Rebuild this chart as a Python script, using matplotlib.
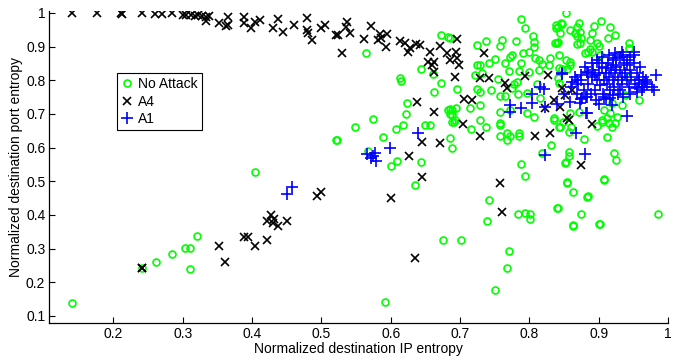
import matplotlib
matplotlib.use('Agg')
import matplotlib.pyplot as plt
from matplotlib.ticker import FormatStrFormatter
import numpy as np

# (IP entropy, port entropy) pairs
no_attack = [
    (0.141, 0.139), (0.242, 0.243), (0.262, 0.260), (0.285, 0.284), (0.303, 0.302), (0.310, 0.302),
    (0.310, 0.240), (0.320, 0.338), (0.404, 0.528), (0.521, 0.623),
    (0.635, 0.489), (0.742, 0.445), (0.739, 0.382), (0.675, 0.326), (0.702, 0.326), (0.771, 0.293),
    (0.767, 0.243), (0.751, 0.177), (0.592, 0.142),
    (0.784, 0.403), (0.794, 0.406), (0.801, 0.403), (0.801, 0.388), (0.840, 0.421), (0.854, 0.495),
    (0.863, 0.468), (0.884, 0.457), (0.863, 0.367), (0.874, 0.403), (0.902, 0.373), (0.985, 0.403),
    (0.908, 0.504),
    (0.844, 0.661), (0.860, 0.661), (0.857, 0.647), (0.897, 0.664), (0.904, 0.676), (0.914, 0.673),
    (0.919, 0.661), (0.923, 0.673), (0.879, 0.626), (0.912, 0.632), (0.857, 0.587), (0.857, 0.575),
    (0.853, 0.557), (0.922, 0.584), (0.925, 0.563), (0.907, 0.507),
    (0.691, 0.676), (0.715, 0.655), (0.737, 0.661), (0.757, 0.667), (0.686, 0.629), (0.689, 0.599),
    (0.757, 0.635), (0.767, 0.644), (0.772, 0.635), (0.767, 0.623), (0.785, 0.644), (0.785, 0.635),
    (0.831, 0.608), (0.818, 0.584), (0.843, 0.661), (0.836, 0.682), (0.788, 0.551), (0.793, 0.516),
    (0.549, 0.661), (0.523, 0.623), (0.607, 0.655), (0.617, 0.667), (0.589, 0.632), (0.567, 0.590),
    (0.609, 0.560), (0.600, 0.546), (0.643, 0.557), (0.650, 0.667), (0.656, 0.667),
    (0.672, 0.935), (0.683, 0.929), (0.564, 0.881), (0.643, 0.834), (0.661, 0.819), (0.613, 0.807),
    (0.615, 0.798), (0.672, 0.792), (0.663, 0.765), (0.623, 0.733), (0.622, 0.700), (0.682, 0.712),
    (0.686, 0.700), (0.689, 0.676), (0.574, 0.685),
    (0.788, 0.982), (0.793, 0.955), (0.838, 0.964), (0.838, 0.955), (0.846, 0.970), (0.685, 0.926),
    (0.725, 0.905), (0.738, 0.917), (0.761, 0.920), (0.758, 0.902), (0.780, 0.917), (0.805, 0.932),
    (0.807, 0.914), (0.807, 0.899), (0.837, 0.911), (0.841, 0.914), (0.800, 0.884), (0.790, 0.881),
    (0.775, 0.875), (0.772, 0.869), (0.750, 0.863), (0.741, 0.851), (0.729, 0.846), (0.724, 0.846),
    (0.765, 0.851), (0.788, 0.851), (0.808, 0.866), (0.814, 0.860), (0.818, 0.848), (0.830, 0.866),
    (0.828, 0.846),
    (0.771, 0.828), (0.785, 0.828), (0.732, 0.822), (0.721, 0.816), (0.754, 0.804), (0.800, 0.825),
    (0.814, 0.831), (0.696, 0.774), (0.725, 0.774), (0.729, 0.765), (0.745, 0.771), (0.778, 0.789),
    (0.782, 0.795), (0.775, 0.777), (0.811, 0.789), (0.843, 0.792), (0.758, 0.753), (0.764, 0.753),
    (0.784, 0.759), (0.797, 0.762), (0.815, 0.748), (0.689, 0.712), (0.714, 0.718), (0.729, 0.727),
    (0.758, 0.706), (0.772, 0.712), (0.797, 0.703), (0.807, 0.691), (0.836, 0.688), (0.692, 0.682),
    (0.729, 0.682), (0.757, 0.673),
    (0.853, 0.999), (0.847, 0.967), (0.841, 0.958), (0.871, 0.970), (0.869, 0.958), (0.893, 0.961),
    (0.903, 0.976), (0.916, 0.958), (0.859, 0.950), (0.844, 0.941), (0.866, 0.941), (0.873, 0.944),
    (0.890, 0.941), (0.923, 0.935), (0.913, 0.926), (0.869, 0.932), (0.874, 0.926), (0.887, 0.920),
    (0.869, 0.908), (0.873, 0.911), (0.840, 0.911), (0.897, 0.911), (0.900, 0.902), (0.943, 0.911),
    (0.887, 0.893), (0.890, 0.884), (0.885, 0.884), (0.880, 0.881), (0.843, 0.875), (0.902, 0.875),
    (0.943, 0.896), (0.853, 0.860), (0.859, 0.854), (0.859, 0.846), (0.854, 0.834), (0.847, 0.834),
    (0.841, 0.807), (0.958, 0.742), (0.940, 0.810), (0.871, 0.706), (0.907, 0.712), (0.919, 0.733),
    (0.933, 0.727), (0.937, 0.756), (0.916, 0.703), (0.926, 0.691), (0.912, 0.688), (0.904, 0.682),
    (0.849, 0.676), (0.859, 0.703), (0.843, 0.837),
    (0.685, 0.715), (0.694, 0.718), (0.689, 0.696), (0.851, 0.555), (0.854, 0.498), (0.883, 0.454),
    (0.841, 0.421), (0.863, 0.370), (0.900, 0.373),
]

a4 = [
    (0.141, 1.0), (0.177, 1.0), (0.211, 1.0), (0.212, 0.998), (0.242, 1.0), (0.260, 0.997),
    (0.270, 0.997), (0.285, 1.0),
    (0.300, 0.994), (0.305, 0.993), (0.312, 0.995), (0.318, 0.992), (0.322, 0.994), (0.328, 0.990),
    (0.333, 0.988), (0.338, 0.990), (0.333, 0.976), (0.352, 0.970), (0.366, 0.988), (0.366, 0.964),
    (0.362, 0.961), (0.389, 0.988), (0.389, 0.970), (0.398, 0.955), (0.405, 0.973), (0.412, 0.979),
    (0.437, 0.982), (0.430, 0.955), (0.444, 0.944), (0.461, 0.964),
    (0.479, 0.985), (0.479, 0.950), (0.481, 0.941), (0.486, 0.920), (0.500, 0.955), (0.505, 0.964),
    (0.521, 0.935), (0.536, 0.958), (0.524, 0.935), (0.541, 0.941), (0.537, 0.973), (0.530, 0.881),
    (0.562, 0.923), (0.572, 0.961), (0.584, 0.938), (0.586, 0.926), (0.595, 0.938), (0.582, 0.920),
    (0.593, 0.899), (0.613, 0.917), (0.620, 0.911), (0.625, 0.884), (0.628, 0.896), (0.636, 0.908),
    (0.642, 0.905), (0.656, 0.884), (0.653, 0.854), (0.663, 0.854), (0.660, 0.845), (0.663, 0.825),
    (0.671, 0.902), (0.681, 0.881), (0.685, 0.860),
    (0.696, 0.923), (0.694, 0.884), (0.696, 0.866), (0.699, 0.846), (0.735, 0.881), (0.692, 0.810),
    (0.728, 0.807), (0.742, 0.807), (0.764, 0.792), (0.768, 0.777), (0.794, 0.813), (0.826, 0.816),
    (0.836, 0.742), (0.823, 0.718),
    (0.638, 0.736), (0.663, 0.706), (0.705, 0.745), (0.717, 0.742), (0.704, 0.670), (0.729, 0.635),
    (0.645, 0.617), (0.671, 0.614), (0.626, 0.575), (0.645, 0.513), (0.808, 0.635), (0.830, 0.644),
    (0.844, 0.721), (0.854, 0.688), (0.857, 0.682), (0.890, 0.670), (0.874, 0.549),
    (0.847, 0.777), (0.851, 0.756), (0.861, 0.771),
    (0.758, 0.495), (0.760, 0.409), (0.600, 0.451), (0.635, 0.272),
    (0.242, 0.243), (0.241, 0.241), (0.352, 0.308), (0.361, 0.260), (0.389, 0.335), (0.394, 0.335),
    (0.404, 0.308), (0.421, 0.326), (0.421, 0.382), (0.428, 0.400), (0.430, 0.376), (0.432, 0.388),
    (0.437, 0.367), (0.451, 0.382), (0.493, 0.457), (0.500, 0.468),
]

a1 = [
    (0.451, 0.462), (0.458, 0.483),
    (0.566, 0.581), (0.577, 0.584), (0.572, 0.569), (0.579, 0.560), (0.574, 0.575), (0.599, 0.599),
    (0.640, 0.644), (0.823, 0.578), (0.867, 0.644), (0.880, 0.581), (0.940, 0.694), (0.881, 0.703),
    (0.772, 0.727), (0.772, 0.706), (0.788, 0.717), (0.804, 0.759), (0.804, 0.733), (0.815, 0.780),
    (0.821, 0.774), (0.823, 0.721), (0.840, 0.730), (0.847, 0.819), (0.861, 0.795), (0.873, 0.733),
    (0.883, 0.751),
    (0.923, 0.881), (0.950, 0.884), (0.933, 0.884), (0.983, 0.816), (0.976, 0.780), (0.979, 0.771),
    (0.966, 0.795), (0.958, 0.801), (0.962, 0.780), (0.955, 0.777),
    (0.883, 0.825), (0.869, 0.801), (0.847, 0.822), (0.876, 0.748), (0.883, 0.703), (0.916, 0.748),
    (0.919, 0.727), (0.907, 0.751), (0.900, 0.851), (0.897, 0.860),
    (0.885, 0.790), (0.890, 0.810), (0.892, 0.830), (0.895, 0.770), (0.898, 0.800), (0.900, 0.820),
    (0.902, 0.785), (0.905, 0.840), (0.906, 0.760), (0.908, 0.800), (0.910, 0.820), (0.912, 0.790),
    (0.913, 0.850), (0.915, 0.810), (0.916, 0.770), (0.918, 0.830), (0.920, 0.800), (0.921, 0.860),
    (0.922, 0.780), (0.924, 0.820), (0.925, 0.840), (0.927, 0.800), (0.928, 0.760), (0.930, 0.830),
    (0.931, 0.870), (0.933, 0.810), (0.934, 0.790), (0.936, 0.850), (0.937, 0.820), (0.940, 0.800),
    (0.941, 0.860), (0.943, 0.780), (0.945, 0.830), (0.947, 0.810), (0.950, 0.850), (0.952, 0.790),
    (0.955, 0.820), (0.958, 0.800), (0.960, 0.840), (0.963, 0.810), (0.965, 0.780), (0.968, 0.800),
    (0.970, 0.790), (0.878, 0.770), (0.875, 0.800), (0.870, 0.790), (0.882, 0.750), (0.888, 0.760),
    (0.896, 0.740), (0.900, 0.730), (0.910, 0.745), (0.920, 0.755), (0.930, 0.770), (0.935, 0.750),
    (0.945, 0.760), (0.955, 0.765), (0.962, 0.770), (0.905, 0.870), (0.915, 0.875), (0.925, 0.865),
    (0.935, 0.875), (0.945, 0.870), (0.950, 0.875), (0.940, 0.845), (0.920, 0.845), (0.910, 0.835),
    (0.895, 0.815), (0.885, 0.820), (0.875, 0.815), (0.865, 0.810), (0.880, 0.840), (0.890, 0.850),
    (0.860, 0.780), (0.868, 0.760), (0.875, 0.745), (0.858, 0.735), (0.850, 0.760),
]

x_ticks = [0.2, 0.3, 0.4, 0.5, 0.6, 0.7, 0.8, 0.9, 1.0]
y_ticks = [0.1, 0.2, 0.3, 0.4, 0.5, 0.6, 0.7, 0.8, 0.9, 1.0]

plt.rcParams['font.family'] = ['Liberation Sans', 'DejaVu Sans']
plt.rcParams['font.size'] = 10

fig = plt.figure(figsize=(6.74, 3.62), dpi=100)
ax = fig.add_axes([0.0734, 0.108, 0.918, 0.862])

na = np.array(no_attack).T
k4 = np.array(a4).T
b1 = np.array(a1).T
ax.plot(na[0], na[1], 'o', color=(0, 1, 0), mfc='none', ms=5, mew=1.2, ls='none', label='No Attack')
ax.plot(k4[0], k4[1], 'x', color='k', ms=6.3, mew=1.2, ls='none', label='A4')
ax.plot(b1[0], b1[1], '+', color=(0, 0, 1), ms=8.5, mew=1.2, ls='none', label='A1')

ax.set_xlim(0.108, 1.0)
ax.set_ylim(0.079, 1.006)
ax.set_xticks(x_ticks)
ax.set_yticks(y_ticks)
ax.xaxis.set_major_formatter(FormatStrFormatter('%g'))
ax.yaxis.set_major_formatter(FormatStrFormatter('%g'))
ax.tick_params(direction='in', length=4, width=0.8, labelsize=10, pad=3)
for side in ['top', 'right']:
    ax.spines[side].set_visible(False)
for side in ['left', 'bottom']:
    ax.spines[side].set_linewidth(0.9)

ax.set_xlabel('Normalized destination IP entropy', fontsize=10, labelpad=1)
ax.set_ylabel('Normalized destination port entropy', fontsize=10, labelpad=2)

leg = ax.legend(loc='upper left', bbox_to_anchor=(0.109, 0.801), borderaxespad=0,
                fancybox=False, framealpha=1, edgecolor='k', fontsize=10,
                handlelength=0.8, handletextpad=0.4, borderpad=0.3, labelspacing=0.25)
leg.get_frame().set_linewidth(0.8)

plt.savefig('out.png', dpi=100)
